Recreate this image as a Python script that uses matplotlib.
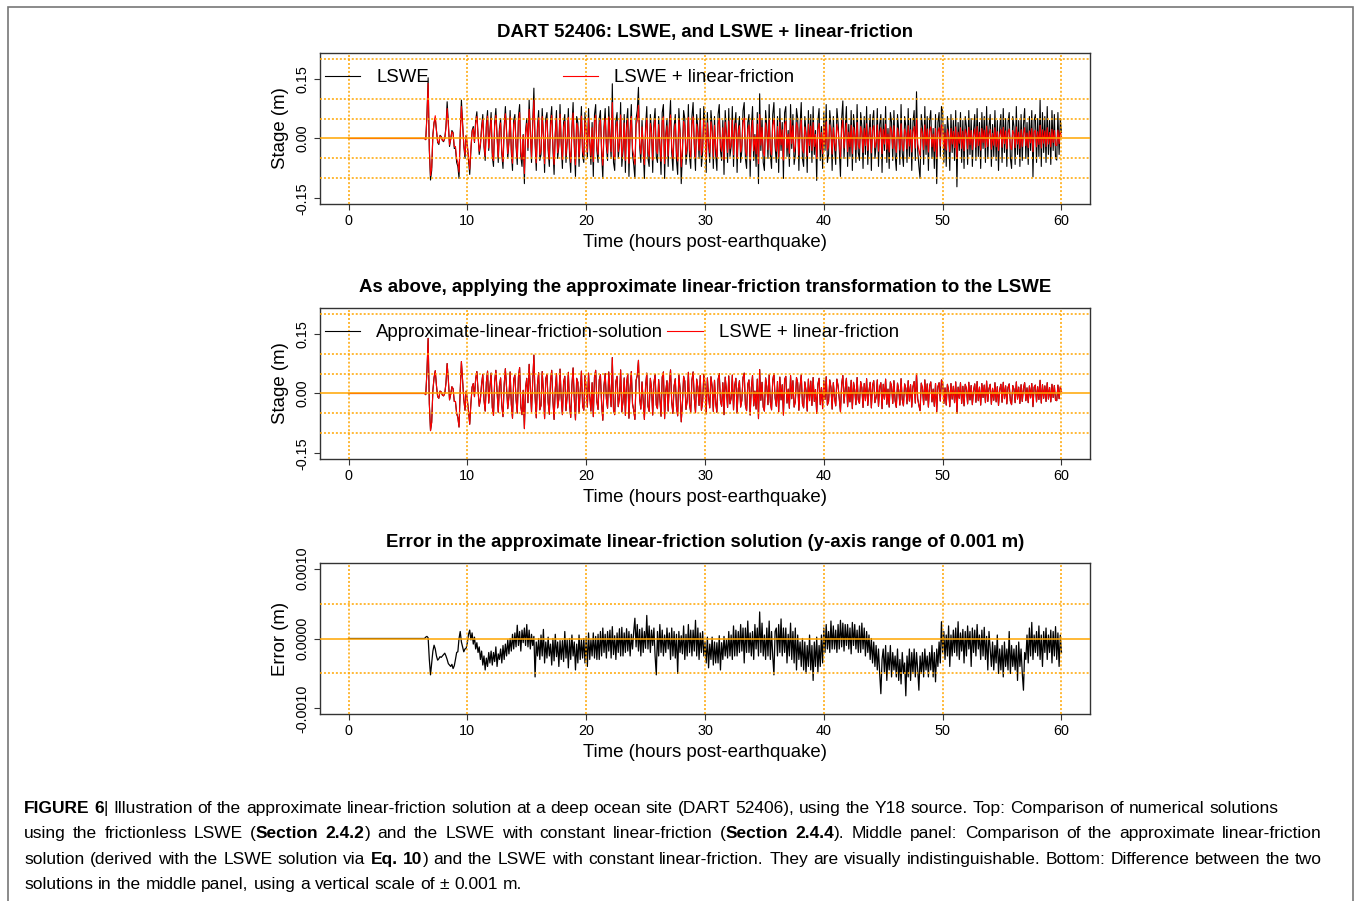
import numpy as np
import matplotlib
matplotlib.use('Agg')
import matplotlib.pyplot as plt
from matplotlib.patches import Rectangle
from matplotlib.transforms import IdentityTransform

plt.rcParams['font.family'] = 'Liberation Sans'

# time axis of the gauge record, one sample every 0.1 h from 6.0 h to 60.0 h
hours = np.arange(60, 601) / 10

# stage at DART 52406, frictionless LSWE (mm), one row per hour (6.x, 7.x, ...)
lswe_mm = [
    0, 0, 0, 0, 0, -3, 60, 152, -30, -104,
    -80, 10, 40, 50, 20, -10, -15, 8, 5, -5,
    -8, 0, 30, 92, 40, -20, -2, 20, 15, -25,
    -25, -60, -70, -100, 10, 96, 40, -17, -50, 8,
    -20, -55, -90, -30, 20, 30, -10, 45, 67, 10,
    -40, -18, 30, 60, -20, -55, 35, 70, -30, 20,
    65, -45, -70, 40, 75, 5, -60, 25, 50, -40,
    -75, 30, 80, 20, -50, -10, 70, -35, -80, 45,
    60, -20, -65, 55, 85, -45, -70, 10, -113, 20,
    50, -30, 96, 20, -60, 40, 126, -10, -80, 30,
    70, -55, -40, 75, 10, -85, 50, 65, -30, -70,
    45, 80, -25, -90, 15, 70, -50, -20, 85, -15,
    -75, 40, 60, -60, -10, 75, -40, -85, 30, 90,
    -20, -95, 55, 40, -70, 10, 80, -45, -60, 65,
    20, -50, 75, -10, -65, 40, -95, 60, 85, -30,
    -60, 50, 70, -40, -100, 30, 75, -20, -55, 80,
    10, -50, 137, -60, -80, 45, 65, -50, -15, 90,
    -70, -30, 60, -85, 40, 75, -95, 20, 85, -40,
    -65, -100, 50, 70, 128, -20, -60, 45, -30, -100,
    30, 80, -50, -70, 60, 20, -85, 40, 75, -45,
    -60, 55, -20, -90, 65, 85, -100, 10, 50, -70,
    40, 95, -35, -80, 30, 60, -55, -90, 75, 20,
    -113, -40, 70, 50, -65, -30, 85, -45, -75, 55,
    90, -20, -80, 60, 25, -50, 75, -70, -35, 80,
    40, -85, 65, -15, -60, 70, 30, -75, 55, -40,
    -80, 60, 85, -30, -55, 45, -90, 70, 15, -60,
    75, -45, -20, 80, -70, 35, 65, -85, 20, 55,
    -60, -30, 70, 90, -50, -75, 40, 60, -95, 25,
    80, -55, 10, -70, 65, -113, 112, -30, 50, -60,
    -80, 70, 30, -50, 85, -40, -75, 60, 90, -20,
    -60, 55, -85, 75, -30, 40, -100, 65, 80, -45,
    20, -70, 85, -25, 60, -65, -40, 75, 50, -80,
    35, 90, -50, -70, 55, 15, -85, 70, -35, 60,
    -60, 80, -40, 20, -105, 45, 75, -55, 30, -75,
    65, -30, 85, -60, -40, 70, 30, -80, 55, -20,
    -65, 75, 40, -30, -95, 50, 94, -50, 25, 80,
    -70, 35, -45, 70, -80, 60, 20, -60, 85, -35,
    -55, 65, 30, -75, 55, -40, 80, -65, 15, 60,
    -80, 45, 70, -50, -20, 75, -70, 35, 60, -85,
    50, -30, 80, -60, 25, -75, 65, 40, -55, 70,
    -40, -80, 60, 20, -65, 85, -35, -70, 55, 30,
    -60, 75, -45, 50, -80, 40, 70, -55, 117, -30,
    -70, -100, 60, 30, -65, 80, -40, 55, -80, 45,
    70, -50, 25, -75, 60, -113, 40, 65, -45, 80,
    67, -60, 35, -70, 55, 20, -80, 60, -35, 45,
    -55, 70, -121, 40, -30, 65, -60, 45, -75, 55,
    30, -65, 70, -40, 50, -70, 20, 60, -55, 75,
    -45, 40, -75, 65, -25, 55, -60, 80, -50, 30,
    60, -70, 35, -45, 70, -55, 45, -80, 25, 60,
    -60, 75, -35, 50, -70, 40, 65, -50, -75, 55,
    30, -65, 80, -40, 45, -70, 60, -55, 35, 75,
    -50, 40, -65, 55, -30, 70, -96, 45, 60, -60,
    50, -45, 96, -70, 65, -35, 55, -60, 80, -40,
    45, -65, 70, -30, 60, -50, -54, 65, -40, 50,
    15,
]

# stage, LSWE + linear-friction (mm)
friction_mm = [
    0, 0, 0, 0, 0, -3, 55, 138, -25, -93,
    -72, 8, 40, 57, 20, -8, -12, 6, 4, -4,
    -6, 0, 26, 75, 35, -16, -2, 17, 12, -20,
    -20, -50, -60, -84, 8, 80, 34, -14, -42, 6,
    -16, -45, -77, -25, 16, 25, -8, 37, 55, 8,
    -32, -14, 24, 48, -16, -44, 28, 56, -24, 16,
    51, -35, -55, 31, 58, 4, -47, 19, 39, -31,
    -58, 23, 62, 15, -38, -8, 54, -27, -62, 35,
    46, -15, -49, 42, 65, -34, -53, 8, -88, 15,
    38, -23, 73, 15, -46, 30, 96, -8, -61, 23,
    52, -41, -30, 55, 7, -63, 37, 48, -22, -52,
    32, 58, -18, -65, 11, 50, -36, -14, 61, -11,
    -53, 28, 43, -43, -7, 53, -28, -60, 21, 64,
    -14, -66, 38, 28, -49, 7, 56, -31, -42, 45,
    14, -34, 51, -7, -44, 27, -58, 41, 58, -20,
    -40, 34, 47, -27, -67, 20, 50, -13, -37, 54,
    7, -33, 90, -40, -53, 30, 43, -33, -10, 59,
    -46, -20, 39, -55, 26, 49, -62, 13, 55, -26,
    -42, -65, 33, 45, 83, -13, -39, 29, -20, -65,
    19, 51, -32, -45, 38, 13, -54, 26, 48, -29,
    -38, 35, -13, -57, 41, 54, -63, 6, 32, -44,
    25, 59, -22, -50, 19, 37, -34, -56, 47, 12,
    -71, -25, 43, 31, -40, -19, 53, -28, -47, 34,
    54, -12, -48, 36, 15, -30, 45, -42, -21, 48,
    24, -51, 39, -9, -36, 42, 18, -45, 33, -24,
    -47, 35, 50, -18, -32, 27, -53, 41, 9, -35,
    44, -26, -12, 46, -41, 20, 38, -49, 12, 32,
    -34, -17, 40, 51, -29, -43, 23, 34, -54, 14,
    45, -31, 6, -39, 36, -63, 60, -17, 28, -34,
    -44, 39, 17, -28, 47, -22, -41, 33, 50, -11,
    -32, 30, -46, 41, -16, 22, -54, 35, 43, -24,
    11, -37, 45, -13, 32, -34, -21, 40, 27, -42,
    18, 47, -26, -36, 29, 8, -44, 36, -18, 31,
    -30, 40, -20, 10, -50, 23, 38, -28, 15, -38,
    32, -15, 42, -29, -20, 34, 15, -39, 27, -10,
    -31, 36, 19, -14, -46, 24, 45, -24, 12, 38,
    -33, 16, -21, 33, -38, 28, 9, -28, 40, -16,
    -25, 30, 14, -35, 25, -18, 37, -30, 7, 28,
    -36, 20, 32, -23, -9, 34, -32, 16, 27, -38,
    23, -14, 36, -27, 11, -34, 29, 18, -25, 32,
    -18, -35, 26, 9, -29, 37, -15, -31, 24, 13,
    -26, 32, -19, 22, -34, 17, 30, -24, 50, -13,
    -30, -43, 26, 13, -28, 34, -17, 24, -34, 19,
    29, -21, 11, -32, 25, -46, 17, 27, -19, 34,
    27, -25, 14, -29, 23, 8, -33, 25, -14, 18,
    -23, 29, -50, 16, -12, 27, -25, 18, -31, 23,
    12, -26, 28, -16, 20, -28, 8, 24, -22, 30,
    -18, 16, -29, 25, -10, 21, -23, 31, -20, 12,
    23, -27, 13, -17, 27, -21, 17, -30, 10, 23,
    -22, 28, -13, 19, -26, 15, 24, -19, -28, 20,
    11, -23, 29, -14, 16, -25, 22, -20, 13, 27,
    -18, 14, -23, 19, -11, 25, -33, 16, 21, -21,
    17, -15, 33, -24, 22, -12, 19, -20, 27, -14,
    15, -21, 23, -10, 20, -17, -18, 21, -13, 17,
    5,
]

# approximate solution minus LSWE + linear-friction (micrometres)
error_um = [
    0, 0, 0, 0, 0, 20, 30, 10, -300, -520,
    -350, -180, -96, -150, -250, -310, -290, -260, -270, -250,
    -230, -210, -250, -300, -360, -380, -400, -370, -430, -390,
    -300, -200, -190, 0, 100, -50, -120, -190, -150, -140,
    -60, 60, 120, -20, 80, -80, 20, -150, -60, -200,
    -120, -300, -180, -380, -250, -450, -280, -400, -200, -350,
    -180, -380, -200, -330, -120, -400, -220, -300, -150, -350,
    -100, -300, -80, -250, -20, -220, 0, -180, 60, -150,
    80, -120, 190, -100, 100, -180, 120, -60, 150, -100,
    200, -120, 120, -150, 60, -100, 30, -550, -50, -250,
    0, -300, 50, -250, 130, -350, -50, -280, 20, -250,
    -80, -380, 0, -320, 60, -260, -50, -400, -30, -300,
    -30, -330, 100, -280, -20, -420, 0, -300, 50, -250,
    -50, -450, -80, -350, 50, -300, -20, -280, 0, -350,
    30, -400, 80, -300, -20, -250, 80, -280, 30, -300,
    60, -300, 100, -250, 150, -200, 60, -280, 100, -180,
    120, -280, 170, -230, 40, -300, 80, -200, 140, -250,
    160, -250, 80, -200, 140, -180, 100, -250, 60, -150,
    100, 290, -120, 200, -180, 130, -250, 150, -200, 100,
    -140, 330, -150, 180, -200, 120, -100, 150, -250, -520,
    100, -250, 200, -200, 120, -250, 50, -200, 150, -150,
    80, -300, 150, -250, 100, -280, 60, -500, 100, -200,
    40, -220, 180, -300, 60, -250, 200, -200, 120, -250,
    120, -180, 260, -250, 150, -300, 80, -200, 100, -250,
    -50, -350, 20, -420, -80, -300, 20, -380, -50, -350,
    -60, -350, 40, -450, -60, -300, 30, -250, -20, -280,
    100, -250, 50, -300, 180, -250, 120, -250, 100, -200,
    200, -180, 150, -350, 150, -200, 250, -200, 80, -250,
    100, -300, 200, -150, 150, -250, 380, -200, 220, -250,
    50, -300, 150, -250, 250, -300, 100, -250, -520, 100,
    150, -250, 200, -200, 280, -250, 150, -200, 150, -350,
    60, -250, 220, -300, 100, -350, 150, -450, 50, -300,
    -50, -400, 0, -450, -50, -500, -100, -400, 50, -450,
    -100, -600, -50, -400, 20, -480, -100, -400, 50, -350,
    150, -200, 200, -150, 100, -200, 250, -150, 180, -150,
    120, -200, 200, -150, 260, -120, 220, -180, 200, -100,
    200, -150, 150, -220, 230, -100, 200, -150, 120, -200,
    180, -200, 220, -150, 150, -250, 100, -200, 50, -300,
    0, -350, -50, -400, -100, -450, -150, -500, -790, -300,
    -150, -500, -100, -600, -200, -450, -100, -550, -200, -450,
    -250, -550, -150, -600, -300, -650, -200, -500, -350, -820,
    -250, -550, -150, -600, -200, -500, -150, -550, -200, -450,
    -740, -250, -500, -200, -550, -150, -450, -250, -550, -200,
    -450, -100, -550, -200, -620, -150, -400, -50, -350, 240,
    -200, 100, -300, 50, -250, 180, -400, 50, -250, 120,
    -200, 150, -250, 240, -300, 80, -180, 130, -350, 100,
    -250, 180, -150, 100, -400, 150, -200, 120, -250, 200,
    -150, 50, -300, 120, -250, 160, -300, 30, -450, 100,
    -150, -400, -50, -450, -100, -350, 50, -500, -150, -450,
    -100, -550, -50, -400, -150, -450, 100, -500, -100, -400,
    -150, -450, -100, -600, -50, -400, -150, -500, -740, -200,
    -300, 50, -350, 150, -250, 230, -300, 50, -200, 100,
    -250, 180, -300, 50, -400, 100, -200, 150, -300, 50,
    -200, 120, -350, 100, -250, 170, -300, 80, -400, 50,
    -200,
]

stage_ticks = [-0.15, 0.0, 0.15]
stage_tick_labels = ['-0.15', '0.00', '0.15']
error_ticks = [-0.001, 0.0, 0.001]
error_tick_labels = ['-0.0010', '0.0000', '0.0010']

caption = [
    "**FIGURE 6**| Illustration of the approximate linear-friction solution at a deep ocean site "
    "(DART 52406), using the Y18 source. Top: Comparison of numerical solutions",
    "using the frictionless LSWE (**Section 2.4.2**) and the LSWE with constant linear-friction "
    "(**Section 2.4.4**). Middle panel: Comparison of the approximate linear-friction",
    "solution (derived with the LSWE solution via **Eq. 10**) and the LSWE with constant "
    "linear-friction. They are visually indistinguishable. Bottom: Difference between the two",
    "solutions in the middle panel, using a vertical scale of  \u00b1 0.001 m.",
]

# the record is flat (zero) from the earthquake until the wave arrives
t = np.concatenate([[0.0], hours])
lswe = np.concatenate([[0.0], np.array(lswe_mm) / 1000])
friction = np.concatenate([[0.0], np.array(friction_mm) / 1000])
error = np.concatenate([[0.0], np.array(error_um) / 1e6])

W, H = 1356, 901
fig = plt.figure(figsize=(W / 100, H / 100), dpi=100)
FS = 13.4
grid_kw = dict(color='orange', linestyle=(0, (1.3, 1.3)), linewidth=1.1)


def panel(top_px):
    return fig.add_axes([320 / W, 1 - (top_px + 151) / H, 770 / W, 151 / H])


def style(ax, title, ylabel, lim, grid_y, ticks, tick_labels):
    ax.set_xlim(-2.4, 62.4)
    pad = 0.04 * (lim[1] - lim[0])
    ax.set_ylim(lim[0] - pad, lim[1] + pad)
    ax.set_xticks(range(0, 61, 10))
    ax.set_yticks(ticks)
    ax.set_yticklabels(tick_labels, rotation=90, va='center')
    ax.set_yticks(grid_y, minor=True)
    ax.tick_params(which='minor', length=0)
    ax.tick_params(which='major', direction='out', length=4.5, width=0.8,
                   labelsize=10.4, color='#333333', pad=3)
    ax.grid(True, which='major', axis='x', **grid_kw)
    ax.grid(True, which='minor', axis='y', **grid_kw)
    ax.set_axisbelow(False)
    ax.axhline(0, color='orange', lw=1.1, zorder=3)
    for s in ax.spines.values():
        s.set_color('#333333')
        s.set_linewidth(1)
    ax.set_title(title, fontsize=FS, fontweight='bold', pad=11.7)
    ax.set_xlabel('Time (hours post-earthquake)', fontsize=FS, labelpad=4)
    ax.set_ylabel(ylabel, fontsize=FS, labelpad=4.5)


leg_kw = dict(ncol=2, loc='upper left', bbox_to_anchor=(0.0065, 0.894), frameon=False,
              fontsize=FS, handlelength=1.9, handletextpad=0.86,
              borderaxespad=0, borderpad=0)

stage_grid = np.arange(-0.15, 0.201, 0.05)

ax1 = panel(53)
ax1.plot(t, lswe, color='black', lw=0.8, label='LSWE')
ax1.plot(t, friction, color='red', lw=0.8, label='LSWE + linear-friction')
style(ax1, 'DART 52406: LSWE, and LSWE + linear-friction', 'Stage (m)',
      (-0.15, 0.2), stage_grid, stage_ticks, stage_tick_labels)
ax1.legend(columnspacing=7.2, **leg_kw)

ax2 = panel(308)
ax2.plot(t, friction, color='black', lw=0.8, label='Approximate-linear-friction-solution')
ax2.plot(t, friction, color='red', lw=0.8, label='LSWE + linear-friction')
style(ax2, 'As above, applying the approximate linear-friction transformation to the LSWE',
      'Stage (m)', (-0.15, 0.2), stage_grid, stage_ticks, stage_tick_labels)
ax2.legend(columnspacing=0.2, **leg_kw)

ax3 = panel(563)
ax3.plot(t, error, color='black', lw=0.9)
style(ax3, 'Error in the approximate linear-friction solution (y-axis range of 0.001 m)',
      'Error (m)', (-0.001, 0.001), np.arange(-0.001, 0.00101, 0.0005),
      error_ticks, error_tick_labels)

# frame round the figure + caption
fig.add_artist(Rectangle((8 / W, -0.01), (1353 - 8) / W, (H - 6.5) / H + 0.01,
                         transform=fig.transFigure, fill=False,
                         edgecolor='#777777', lw=1.2))

renderer = fig.canvas.get_renderer()


def width(s, weight, size):
    tx = fig.text(0, 0, s, fontsize=size, fontweight=weight)
    w = tx.get_window_extent(renderer=renderer).width
    tx.remove()
    return w


def words_of(line):
    words = [[]]
    for i, chunk in enumerate(line.split('**')):
        weight = 'bold' if i % 2 else 'normal'
        for j, part in enumerate(chunk.split(' ')):
            if j > 0:
                words.append([])
            if part:
                words[-1].append((part, weight))
    return [w for w in words if w]


targets = [1278, 1322, 1322, None]
baselines = [813, 838, 864, 889]
x0 = 24

# each justified line gets the largest size (up to 12.5) that still fits
sizes = []
for line, right in zip(caption, targets):
    size = 12.5 if right is None else None
    if right is not None:
        ws = words_of(line)
        sp = width('a a', 'normal', 12.5) - width('aa', 'normal', 12.5)
        nat = sum(width(s, wt, 12.5) for w in ws for s, wt in w) + (len(ws) - 1) * sp * 0.8
        size = min(12.5, 12.5 * (right - x0) / nat)
    sizes.append(size)
sizes[3] = sizes[2]

for line, right, base, size in zip(caption, targets, baselines, sizes):
    ws = words_of(line)
    ww = [sum(width(s, wt, size) for s, wt in w) for w in ws]
    space = width('a a', 'normal', size) - width('aa', 'normal', size)
    gap = (right - x0 - sum(ww)) / (len(ws) - 1) if right else space
    x = x0
    for w, wlen in zip(ws, ww):
        xx = x
        for s, wt in w:
            fig.text(xx, H - base, s, fontsize=size, fontweight=wt,
                     transform=IdentityTransform(), va='baseline', ha='left')
            xx += width(s, wt, size)
        x += wlen + gap

fig.savefig('out.png', dpi=100)
